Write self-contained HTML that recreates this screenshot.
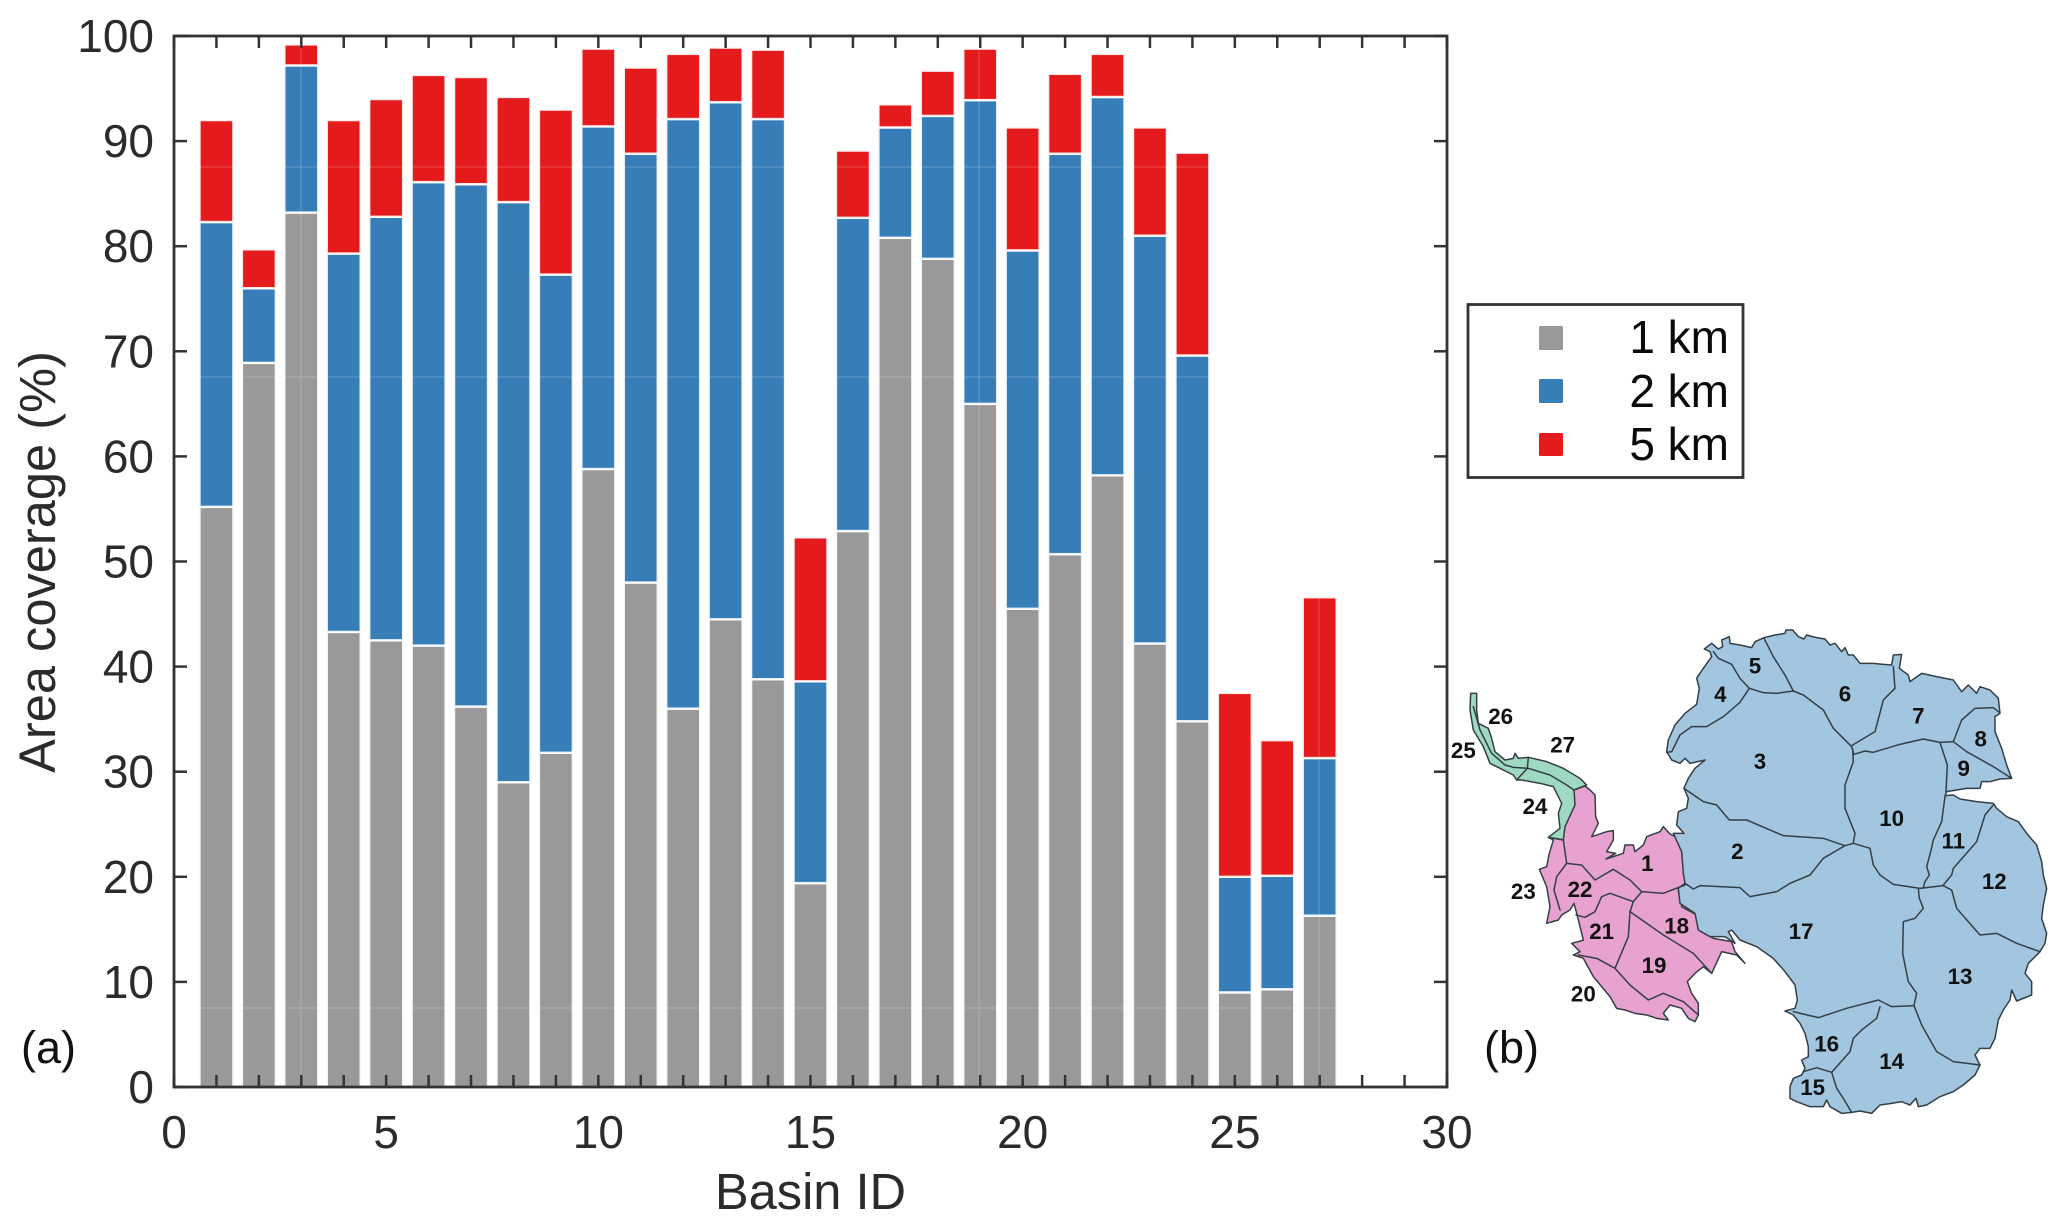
<!DOCTYPE html>
<html lang="en">
<head>
<meta charset="utf-8">
<title>Area coverage by basin</title>
<style>
html,body{margin:0;padding:0;background:#fff;width:2067px;height:1218px;overflow:hidden}
svg{display:block;font-family:"Liberation Sans",Arial,sans-serif}
.tick-label{font-size:46px;fill:#2b2b2b}
.axis-title{font-size:50.6px;fill:#2b2b2b}
.legend-text{font-size:46px;fill:#0a0a0a}
.panel{font-size:45px;fill:#111}
.map-label{font-size:67px;font-weight:bold;fill:#111;text-anchor:middle;dominant-baseline:central}
.region{stroke:#333f46;stroke-width:4.5;stroke-linejoin:round}
.border{fill:none;stroke:#333f46;stroke-width:4.5;stroke-linejoin:round;stroke-linecap:round}
</style>
</head>
<body>
<svg id="figure" xmlns="http://www.w3.org/2000/svg" width="2067" height="1218" viewBox="0 0 2067 1218">
  <g id="bars"></g>
  <g id="seams" stroke="#fff" stroke-opacity="0.18" stroke-width="1.2">
    <line x1="174" x2="1447" y1="167" y2="167"/>
    <line x1="174" x2="1447" y1="377" y2="377"/>
    <line x1="174" x2="1447" y1="1008" y2="1008"/>
    <line x1="301" x2="301" y1="36" y2="1087"/>
    <line x1="979" x2="979" y1="36" y2="1087"/>
    <line x1="1319" x2="1319" y1="36" y2="1087"/>
  </g>
  <g id="axes"></g>
  <text class="axis-title" x="810.5" y="1209" text-anchor="middle">Basin ID</text>
  <text class="axis-title" transform="translate(55 562) rotate(-90)" text-anchor="middle">Area coverage (%)</text>
  <text class="panel" x="21" y="1063">(a)</text>
  <text class="panel" x="1484" y="1063">(b)</text>

  <g>
    <rect x="1468" y="304.5" width="275" height="173" fill="#fff" stroke="#333" stroke-width="2.8"/>
    <rect x="1539" y="326" width="24" height="24" rx="1.5" fill="#999999"/>
    <rect x="1539" y="379" width="24" height="24" rx="1.5" fill="#377eb8"/>
    <rect x="1539" y="433" width="24" height="23" rx="1.5" fill="#e41a1c"/>
    <text class="legend-text" x="1729" y="353" text-anchor="end">1 km</text>
    <text class="legend-text" x="1729" y="407" text-anchor="end">2 km</text>
    <text class="legend-text" x="1729" y="460" text-anchor="end">5 km</text>
  </g>

  <g transform="translate(1450 625) scale(0.33333)">
    <polygon class="region" fill="#9fd9c1" points="62,205 80,205 80,255 85,295 115,310 125,340 135,380 165,405 190,400 195,385 205,400 235,397 290,410 340,430 390,460 410,480 372,495 378,540 345,645 295,637 330,610 325,565 335,535 310,485 270,475 215,465 200,465 190,450 150,430 120,415 100,365 70,315 60,255"/>
    <polygon class="region" fill="#e8a2cf" points="372,495 405,483 420,495 435,510 437,575 445,595 425,635 470,620 490,617 490,645 470,680 497,685 468,702 520,685 525,660 550,660 555,680 580,660 590,635 630,620 640,605 660,627 695,645 700,705 705,775 685,795 695,845 740,870 745,915 790,940 845,950 855,980 885,1015 860,990 815,980 785,1045 760,1025 735,1045 712,1070 725,1105 745,1135 745,1170 735,1190 715,1180 695,1150 660,1140 640,1165 655,1185 620,1180 590,1170 555,1165 525,1155 500,1150 480,1115 430,1055 400,1000 370,990 390,980 365,955 385,950 400,945 380,865 372,835 360,855 335,870 325,885 290,895 300,845 290,785 268,733 290,725 298,685 310,645 295,637 340,645 345,605 375,540"/>
    <polygon class="region" fill="#a3c6e0" points="650,380 655,345 675,300 705,265 740,238 748,190 740,160 760,130 785,95 780,80 763,72 785,55 805,72 818,65 815,45 838,35 840,55 870,60 905,68 915,50 942,38 975,30 1005,25 1008,15 1028,15 1045,35 1062,42 1070,30 1100,38 1125,42 1140,60 1155,55 1175,80 1185,68 1195,90 1210,90 1230,115 1270,115 1300,118 1325,120 1330,90 1355,88 1348,130 1375,150 1380,170 1415,145 1460,155 1510,165 1535,200 1555,180 1570,195 1580,205 1590,185 1620,195 1645,220 1650,265 1635,275 1635,320 1655,370 1670,420 1685,460 1650,462 1620,470 1595,470 1590,490 1550,490 1490,500 1485,512 1510,510 1530,522 1580,530 1630,535 1640,550 1670,575 1705,590 1730,625 1760,660 1775,710 1780,750 1790,790 1780,840 1775,880 1790,925 1785,955 1770,980 1735,1015 1725,1045 1745,1070 1745,1110 1700,1128 1685,1095 1680,1125 1660,1155 1645,1185 1635,1240 1620,1270 1590,1270 1575,1290 1590,1320 1575,1350 1540,1380 1510,1400 1470,1415 1430,1440 1405,1445 1398,1420 1380,1440 1355,1430 1325,1435 1290,1440 1265,1465 1230,1458 1205,1462 1175,1465 1140,1445 1130,1425 1120,1445 1080,1445 1040,1430 1020,1420 1020,1385 1030,1360 1055,1350 1065,1330 1055,1305 1075,1295 1075,1265 1065,1225 1050,1195 1030,1170 1005,1158 1035,1150 1042,1125 1035,1080 1005,1040 970,1000 920,965 870,945 845,915 835,920 855,955 825,935 780,935 745,915 735,865 690,835 685,790 705,775 700,745 695,680 670,625 702,625 680,600 685,560 710,550 715,520 702,490 715,460 735,430 765,405 720,415 705,400 690,415 665,405"/>
    <g>
      <polyline class="border" points="790,80 805,100 845,118 870,160 898,190 870,232 820,275 770,305 725,305 690,330 665,380 650,382"/>
      <polyline class="border" points="898,190 940,203 980,205 1030,198 1005,150 970,95 942,40"/>
      <polyline class="border" points="1030,198 1060,210 1120,255 1150,310 1205,365"/>
      <polyline class="border" points="1330,125 1335,190 1300,225 1275,320 1205,362"/>
      <polyline class="border" points="1205,365 1212,388 1245,378 1270,382 1350,358 1420,342 1470,352 1510,350"/>
      <polyline class="border" points="1510,350 1535,285 1575,250 1630,248 1648,262"/>
      <polyline class="border" points="1510,350 1550,380 1630,425 1685,460"/>
      <polyline class="border" points="1470,352 1492,420 1488,500"/>
      <polyline class="border" points="1485,515 1475,590 1450,645 1442,680 1430,725 1438,750 1425,770 1420,788"/>
      <polyline class="border" points="1208,370 1210,410 1185,480 1185,550 1215,625 1210,652"/>
      <polyline class="border" points="702,490 760,530 800,540 838,585 890,585 1000,632 1120,640 1185,662"/>
      <polyline class="border" points="705,775 730,792 750,782 870,788 900,815 980,800 1020,775 1080,750 1120,700 1185,662"/>
      <polyline class="border" points="1185,662 1210,655 1260,670 1270,720 1290,750 1330,778 1410,790 1480,782"/>
      <polyline class="border" points="1630,540 1605,570 1580,650 1510,730 1505,750 1480,780"/>
      <polyline class="border" points="1480,782 1505,795 1520,850 1590,930 1640,925 1700,955 1770,980"/>
      <polyline class="border" points="1405,790 1408,820 1420,850 1395,880 1360,890 1358,985 1375,1070 1400,1105 1392,1140"/>
      <polyline class="border" points="1030,1160 1105,1178 1190,1150 1285,1125 1325,1145 1392,1142"/>
      <polyline class="border" points="1392,1142 1415,1200 1460,1280 1510,1310 1590,1320"/>
      <polyline class="border" points="1290,1145 1280,1180 1235,1215 1210,1240 1200,1280 1145,1342"/>
      <polyline class="border" points="1060,1340 1100,1328 1145,1342 1160,1390 1180,1420 1205,1462"/>
      <polyline class="border" points="340,645 350,715 395,720 435,765 490,733 540,765 575,800 640,805 705,780"/>
      <polyline class="border" points="350,715 320,755 312,795 330,855"/>
      <polyline class="border" points="575,800 550,830 480,805 455,815 435,860 405,877 378,870"/>
      <polyline class="border" points="550,830 540,860 640,930 730,985 785,1045"/>
      <polyline class="border" points="540,860 535,935 495,1030"/>
      <polyline class="border" points="385,990 440,1000 495,1030 540,1080 595,1125 640,1105 700,1130 745,1170"/>
      <polyline class="border" points="70,245 90,315 125,385 165,420 190,427 235,430 300,450 350,480 372,495"/>
      <polyline class="border" points="235,397 232,430 200,465"/>
    </g>
    <g>
      <text class="map-label" x="592" y="715">1</text>
      <text class="map-label" x="862" y="680">2</text>
      <text class="map-label" x="930" y="410">3</text>
      <text class="map-label" x="811" y="208">4</text>
      <text class="map-label" x="915" y="123">5</text>
      <text class="map-label" x="1185" y="207">6</text>
      <text class="map-label" x="1405" y="273">7</text>
      <text class="map-label" x="1592" y="342">8</text>
      <text class="map-label" x="1541" y="430">9</text>
      <text class="map-label" x="1325" y="580">10</text>
      <text class="map-label" x="1510" y="648">11</text>
      <text class="map-label" x="1633" y="770">12</text>
      <text class="map-label" x="1530" y="1055">13</text>
      <text class="map-label" x="1325" y="1310">14</text>
      <text class="map-label" x="1088" y="1387">15</text>
      <text class="map-label" x="1130" y="1257">16</text>
      <text class="map-label" x="1053" y="920">17</text>
      <text class="map-label" x="680" y="903">18</text>
      <text class="map-label" x="612" y="1022">19</text>
      <text class="map-label" x="400" y="1107">20</text>
      <text class="map-label" x="455" y="920">21</text>
      <text class="map-label" x="390" y="793">22</text>
      <text class="map-label" x="220" y="800">23</text>
      <text class="map-label" x="255" y="545">24</text>
      <text class="map-label" x="40" y="377">25</text>
      <text class="map-label" x="152" y="275">26</text>
      <text class="map-label" x="338" y="360">27</text>
    </g>
  </g>
</svg>
<script>
const basinIds = [1,2,3,4,5,6,7,8,9,10,11,12,13,14,15,16,17,18,19,20,21,22,23,24,25,26,27];
const coverage1km = [55.2,68.9,83.2,43.3,42.5,42.0,36.2,29.0,31.8,58.8,48.0,36.0,44.5,38.8,19.4,52.9,80.8,78.8,65.0,45.5,50.7,58.2,42.2,34.8,9.0,9.3,16.3];
const coverage2km = [27.1,7.1,14.0,36.0,40.3,44.1,49.7,55.2,45.5,32.6,40.8,56.1,49.2,53.3,19.2,29.8,10.5,13.6,28.9,34.1,38.1,36.0,38.8,34.8,11.0,10.8,15.0];
const coverage5km = [9.7,3.7,2.0,12.7,11.2,10.2,10.2,10.0,15.7,7.4,8.2,6.2,5.2,6.6,13.7,6.4,2.2,4.3,4.9,11.7,7.6,4.1,10.3,19.3,17.5,12.9,15.3];
const xTickLabels = [0,5,10,15,20,25,30];
const xMinorTicks = [1,2,3,4,6,7,8,9,11,12,13,14,16,17,18,19,21,22,23,24,26,27,28,29];
const yTickLabels = [0,10,20,30,40,50,60,70,80,90,100];

const NS = 'http://www.w3.org/2000/svg';
const plot = {left:174, right:1447, top:36, bottom:1087};
const xDomain = [0,30];
const yDomain = [0,100];
function xScale(v){return plot.left + (v-xDomain[0])/(xDomain[1]-xDomain[0])*(plot.right-plot.left);}
function yScale(v){return plot.bottom - (v-yDomain[0])/(yDomain[1]-yDomain[0])*(plot.bottom-plot.top);}
function make(tag, attrs, parent){
  const el = document.createElementNS(NS, tag);
  for (const k in attrs) el.setAttribute(k, attrs[k]);
  parent.appendChild(el);
  return el;
}

const barLayer = document.getElementById('bars');
const seriesList = [
  {key:'1km', values:coverage1km, color:'#999999'},
  {key:'2km', values:coverage2km, color:'#377eb8'},
  {key:'5km', values:coverage5km, color:'#e41a1c'}
];
const barWidth = 0.8;
basinIds.forEach(function(id, i){
  let base = 0;
  seriesList.forEach(function(s){
    const top = base + s.values[i];
    const rect = make('rect', {
      x: xScale(id - barWidth/2),
      y: yScale(top),
      width: xScale(id + barWidth/2) - xScale(id - barWidth/2),
      height: yScale(base) - yScale(top),
      fill: s.color,
      stroke: '#fff',
      'stroke-opacity': 0.9,
      'stroke-width': 2.4
    }, barLayer);
    
    
    base = top;
  });
});

const axes = document.getElementById('axes');
const frame = make('rect', {x:plot.left, y:plot.top, width:plot.right-plot.left, height:plot.bottom-plot.top, fill:'none', stroke:'#333', 'stroke-width':2.8}, axes);



function xTick(v){
  const x = xScale(v);
  const bottomTick = make('line', {x1:x, x2:x, y1:plot.bottom, y2:plot.bottom-12, stroke:'#333', 'stroke-width':2.5}, axes);
  
  
  const topTick = make('line', {x1:x, x2:x, y1:plot.top, y2:plot.top+12, stroke:'#333', 'stroke-width':2.5}, axes);
  
  
}
xMinorTicks.forEach(xTick);
xTickLabels.forEach(function(v){
  xTick(v);
  const t = make('text', {class:'tick-label', x:xScale(v), y:1148, 'text-anchor':'middle'}, axes);
  t.textContent = String(v);
  
  
});
yTickLabels.forEach(function(v){
  const y = yScale(v);
  const leftTick = make('line', {x1:plot.left, x2:plot.left+13, y1:y, y2:y, stroke:'#333', 'stroke-width':2.5}, axes);
  
  
  const rightTick = make('line', {x1:plot.right, x2:plot.right-13, y1:y, y2:y, stroke:'#333', 'stroke-width':2.5}, axes);
  
  
  const t = make('text', {class:'tick-label', x:154, y:y+16, 'text-anchor':'end'}, axes);
  t.textContent = String(v);
  
  
});
</script>
</body>
</html>
